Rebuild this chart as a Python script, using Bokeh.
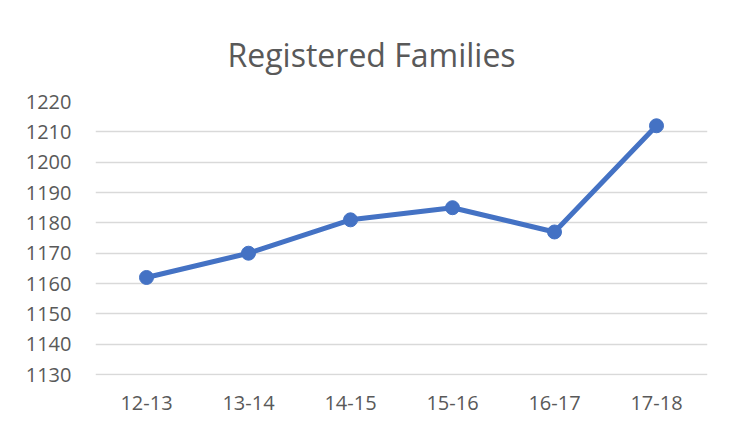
from bokeh.plotting import figure
from bokeh.models import Range1d, FactorRange, FixedTicker, Title
from bokeh.embed import file_html
from bokeh.resources import INLINE

seasons = ["12-13", "13-14", "14-15", "15-16", "16-17", "17-18"]
families = [1162, 1170, 1181, 1185, 1177, 1212]
y_ticks = [1130, 1140, 1150, 1160, 1170, 1180, 1190, 1200, 1210, 1220]
title_text = "Registered Families"

W, H = 733, 435
FL, FR, FT, FB = 95, 707, 101, 375  # frame edges on the canvas

p = figure(width=W, height=H, output_backend="svg", toolbar_location=None,
           x_range=FactorRange(*seasons, range_padding=0),
           y_range=Range1d(1129.7, 1220),
           min_border_left=FL, min_border_right=W - FR,
           min_border_top=FT, min_border_bottom=H - FB)
p.outline_line_color = None
p.background_fill_color = "white"
p.border_fill_color = "white"

p.line(seasons, families, line_color="#4472C4", line_width=5, line_join="round")
p.scatter(seasons, families, size=14, fill_color="#4472C4", line_color="#4472C4")

p.xgrid.grid_line_color = None
p.ygrid.grid_line_color = "#D9D9D9"
p.ygrid.grid_line_width = 1.5
p.yaxis.ticker = FixedTicker(ticks=y_ticks)

for ax in (p.xaxis[0], p.yaxis[0]):
    ax.axis_line_color = None
    ax.major_tick_line_color = None
    ax.minor_tick_line_color = None
    ax.major_label_text_color = "#595959"
    ax.major_label_text_font = "Open Sans"
    ax.major_label_text_font_size = "20px"
p.yaxis.major_label_standoff = 18
p.xaxis.major_label_standoff = 14

p.title = Title(text=title_text, align="left", offset=132, standoff=52,
                text_font="Open Sans", text_font_size="32px",
                text_font_style="normal", text_color="#595959")

open("out.html", "w").write(file_html(p, INLINE))
